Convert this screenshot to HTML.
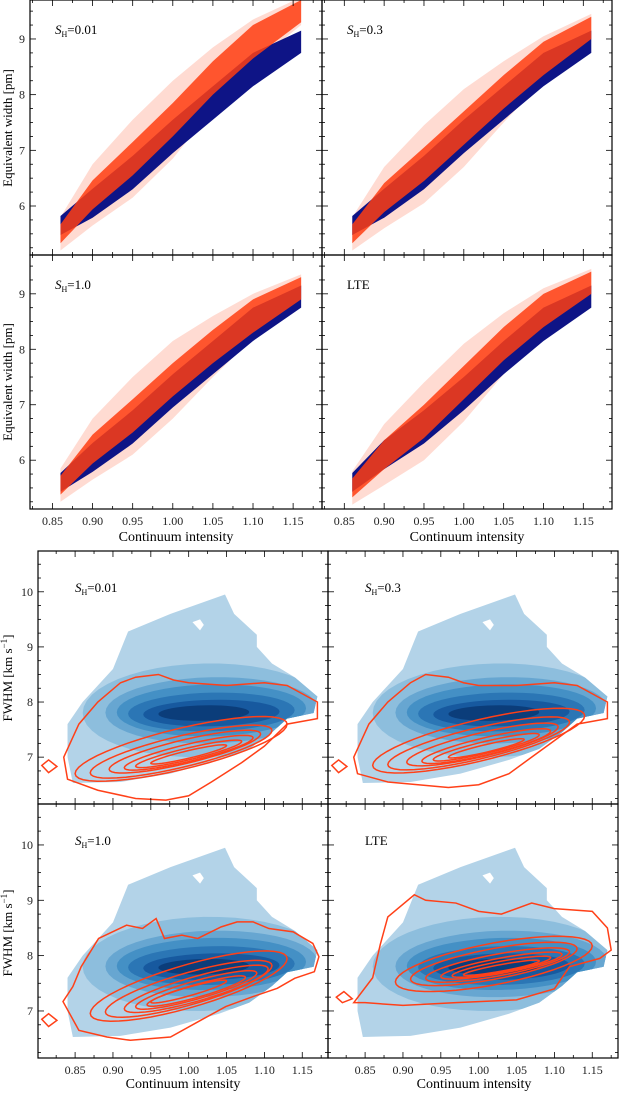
<!DOCTYPE html>
<html><head><meta charset="utf-8">
<style>
html,body{margin:0;padding:0;background:#fff;}
svg{display:block;font-family:"Liberation Serif",serif;}
</style></head>
<body>
<svg id="fig" width="620" height="1093" viewBox="0 0 620 1093" xmlns="http://www.w3.org/2000/svg"></svg>
<script>
// ---------- scatter data (centreline, half-width) ----------
const scX = [0.86, 0.90, 0.95, 1.00, 1.05, 1.10, 1.16];
const blueTL = [5.65, 6.05, 6.6, 7.25, 7.85, 8.45, 8.95];
const redTL  = [5.5, 6.2, 6.85, 7.55, 8.3, 8.95, 9.5];
const blueTR = [5.65, 6.05, 6.6, 7.25, 7.85, 8.45, 8.95];
const redTR  = [5.5, 6.15, 6.75, 7.4, 8.05, 8.65, 9.2];
const blueBL = [5.6, 6.05, 6.6, 7.25, 7.85, 8.45, 8.95];
const redBL  = [5.55, 6.2, 6.8, 7.45, 8.05, 8.6, 9.1];
const blueBR = [5.6, 6.1, 6.6, 7.2, 7.85, 8.45, 8.95];
const redBR  = [5.5, 6.1, 6.7, 7.4, 8.1, 8.7, 9.2];
const bandHW = [0.17, 0.26, 0.3, 0.3, 0.3, 0.3, 0.2];
const haloHW = [0.3, 0.55, 0.7, 0.7, 0.55, 0.4, 0.25];
const scLabels = ["S_H=0.01", "S_H=0.3", "S_H=1.0", "LTE"];
// ---------- contour data ----------
const blueOuter = [[0.847,6.53],[0.84,7.0],[0.84,7.6],[0.86,8.0],[0.88,8.3],[0.90,8.6],[0.92,9.28],[0.976,9.6],[1.048,9.95],[1.06,9.6],[1.09,9.22],[1.09,9.0],[1.11,8.7],[1.14,8.45],[1.17,8.1],[1.165,7.8],[1.13,7.7],[1.11,7.45],[1.08,7.15],[1.04,6.95],[0.976,6.7],[0.91,6.55]];
const blueHole = [[1.005,9.45],[1.015,9.3],[1.02,9.4],[1.015,9.5]];
const blueLevels = [[1.02,7.85,0.16,0.85],[1.03,7.85,0.14,0.6],[1.03,7.85,0.125,0.47],[1.03,7.82,0.11,0.35],[1.03,7.8,0.09,0.24],[1.02,7.8,0.06,0.14]];
const blueColors = ["#b3d3e8","#8dbedd","#67a6d1","#4490c5","#2b76b5","#17599f","#0b3d7a"];
const redOuter01 = [[0.835,7.0],[0.855,7.6],[0.88,8.0],[0.91,8.35],[0.93,8.45],[0.96,8.5],[0.98,8.4],[1.0,8.35],[1.05,8.3],[1.1,8.35],[1.13,8.3],[1.17,8.0],[1.17,7.7],[1.13,7.6],[1.1,7.2],[1.07,6.9],[1.03,6.55],[1.0,6.3],[0.97,6.22],[0.93,6.25],[0.88,6.4],[0.84,6.6]];
const redOuter03 = [[0.835,7.0],[0.855,7.6],[0.88,8.0],[0.91,8.35],[0.93,8.5],[0.96,8.45],[0.98,8.35],[1.0,8.3],[1.05,8.3],[1.1,8.35],[1.13,8.3],[1.17,8.0],[1.17,7.7],[1.13,7.6],[1.1,7.3],[1.07,7.0],[1.04,6.7],[1.0,6.5],[0.96,6.45],[0.92,6.5],[0.88,6.55],[0.84,6.7]];
const redOuter10 = [[0.834,7.17],[0.847,7.44],[0.858,7.8],[0.881,8.31],[0.918,8.55],[0.939,8.49],[0.957,8.67],[0.968,8.31],[0.991,8.37],[1.012,8.31],[1.043,8.52],[1.064,8.61],[1.085,8.61],[1.106,8.49],[1.138,8.43],[1.164,8.22],[1.172,7.98],[1.166,7.71],[1.14,7.59],[1.117,7.41],[1.085,7.26],[1.049,7.08],[1.017,6.84],[0.976,6.53],[0.923,6.47],[0.892,6.53],[0.855,6.65]];
const redOuterLTE = [[0.835,7.15],[0.86,7.6],[0.87,8.2],[0.88,8.7],[0.915,9.1],[0.93,9.0],[0.97,8.95],[1.0,8.8],[1.03,8.75],[1.07,8.95],[1.1,8.85],[1.15,8.8],[1.17,8.5],[1.175,8.1],[1.16,7.95],[1.12,7.8],[1.1,7.4],[1.05,7.2],[0.97,7.15],[0.9,7.1],[0.85,7.15]];
const redDiamond = [[0.806,6.85],[0.815,6.95],[0.826,6.83],[0.815,6.72]];
const redDiamondLTE = [[0.812,7.25],[0.822,7.35],[0.833,7.22],[0.82,7.15]];
// inner contours: [cx, cy, rx, ry]
const redInner01 = [[0.99,7.15,0.14,0.38],[0.99,7.1,0.12,0.29],[0.995,7.1,0.1,0.22],[1.0,7.08,0.085,0.16],[1.0,7.06,0.07,0.11],[1.0,7.05,0.05,0.07]];
const redInner03 = [[1.0,7.3,0.14,0.38],[1.0,7.25,0.12,0.29],[1.005,7.23,0.1,0.22],[1.01,7.2,0.085,0.16],[1.01,7.18,0.07,0.11],[1.01,7.16,0.05,0.07]];
const redInner10 = [[1.0,7.45,0.13,0.4],[1.0,7.4,0.11,0.3],[1.01,7.4,0.095,0.23],[1.01,7.38,0.08,0.17],[1.01,7.36,0.065,0.12],[1.0,7.35,0.05,0.08]];
const redInnerLTE = [[1.02,7.85,0.13,0.38],[1.02,7.85,0.11,0.28],[1.025,7.83,0.095,0.2],[1.03,7.82,0.08,0.14],[1.03,7.8,0.065,0.1],[1.03,7.78,0.05,0.06]];
const innerSlope = [3.2, 3.2, 3.8, 2.5];
const ctLabels = ["S_H=0.01", "S_H=0.3", "S_H=1.0", "LTE"];
const xTicks = [0.85, 0.90, 0.95, 1.00, 1.05, 1.10, 1.15];
const xTickLabels = ["0.85","0.90","0.95","1.00","1.05","1.10","1.15"];
const ewTicks = [6, 7, 8, 9];
const fwTicks = [7, 8, 9, 10];

const NS = "http://www.w3.org/2000/svg";
const svg = document.getElementById('fig');
function mk(tag, attrs, parent) {
  const e = document.createElementNS(NS, tag);
  for (const k in attrs) e.setAttribute(k, attrs[k]);
  (parent || svg).appendChild(e);
  return e;
}
function scales(p) {
  return {
    x: v => p.x0 + (v - p.xd[0]) / (p.xd[1] - p.xd[0]) * (p.x1 - p.x0),
    y: v => p.y1 - (v - p.yd[0]) / (p.yd[1] - p.yd[0]) * (p.y1 - p.y0)
  };
}
function clip(p, id) {
  const d = mk('clipPath', {id: id});
  mk('rect', {x: p.x0, y: p.y0, width: p.x1 - p.x0, height: p.y1 - p.y0}, d);
}
function label(p, txt, x, y) {
  const t = mk('text', {x: x, y: y, 'font-size': 13});
  
  
  if (txt.startsWith('S_H')) {
    const a = mk('tspan', {'font-style': 'italic'}, t); a.textContent = 'S';
    const b = mk('tspan', {'font-size': 8, dy: 3}, t); b.textContent = 'H';
    const c = mk('tspan', {dy: -3}, t); c.textContent = txt.slice(3);
  } else t.textContent = txt;
}
function axes(p, yt, showX, name) {
  const s = scales(p);
  const g = mk('g', {});
  
  
  mk('rect', {x: p.x0, y: p.y0, width: p.x1 - p.x0, height: p.y1 - p.y0, fill: 'none', stroke: '#000', 'stroke-width': 1.2}, g);
  for (let v = 0.8; v <= 1.2001; v += 0.025) {
    if (v < p.xd[0] || v > p.xd[1]) continue;
    const maj = Math.abs(v * 20 - Math.round(v * 20)) < 1e-6;
    const L = maj ? 6 : 3, X = s.x(v);
    mk('line', {x1: X, x2: X, y1: p.y1, y2: p.y1 - L, stroke: '#000', 'stroke-width': 0.8}, g);
    mk('line', {x1: X, x2: X, y1: p.y0, y2: p.y0 + L, stroke: '#000', 'stroke-width': 0.8}, g);
  }
  for (let v = 5; v <= 11; v += 0.25) {
    if (v < p.yd[0] || v > p.yd[1]) continue;
    const maj = Math.abs(v - Math.round(v)) < 1e-6;
    const L = maj ? 6 : 3, Y = s.y(v);
    mk('line', {x1: p.x0, x2: p.x0 + L, y1: Y, y2: Y, stroke: '#000', 'stroke-width': 0.8}, g);
    mk('line', {x1: p.x1, x2: p.x1 - L, y1: Y, y2: Y, stroke: '#000', 'stroke-width': 0.8}, g);
  }
  if (yt) yt.forEach(v => {
    const t = mk('text', {x: p.x0 - 5, y: s.y(v) + 4, 'font-size': 12, 'text-anchor': 'end', fill: '#222'});
    
    
    t.textContent = v;
  });
  if (showX) xTicks.forEach((v, i) => {
    const t = mk('text', {x: s.x(v), y: p.y1 + 16, 'font-size': 12, 'text-anchor': 'middle', fill: '#222'});
    
    
    t.textContent = xTickLabels[i];
  });
}
function bandPath(s, xs, yc, hw) {
  const up = xs.map((x, i) => s.x(x) + ',' + s.y(yc[i] + hw[i]));
  const dn = xs.map((x, i) => s.x(x) + ',' + s.y(yc[i] - hw[i])).reverse();
  return 'M' + up.join('L') + 'L' + dn.join('L') + 'Z';
}
function polyPath(s, pts) {
  return 'M' + pts.map(q => s.x(q[0]) + ',' + s.y(q[1])).join('L') + 'Z';
}
function ellPath(s, e, slope) {
  const pts = [];
  for (let k = 0; k < 48; k++) {
    const a = k / 48 * Math.PI * 2;
    const dx = e[2] * Math.cos(a);
    pts.push([e[0] + dx, e[1] + slope * dx + e[3] * Math.sin(a)]);
  }
  return polyPath(s, pts);
}

// ---------- scatter panels ----------
const scPanels = [
  {x0: 30, x1: 322, y0: 0, y1: 255, blue: blueTL, red: redTL, yt: true},
  {x0: 322, x1: 612, y0: 0, y1: 255, blue: blueTR, red: redTR, yt: false},
  {x0: 30, x1: 322, y0: 255, y1: 509, blue: blueBL, red: redBL, yt: true},
  {x0: 322, x1: 612, y0: 255, y1: 509, blue: blueBR, red: redBR, yt: false}
];
scPanels.forEach((p, i) => {
  p.xd = [0.822, 1.186]; p.yd = [5.12, 9.7];
  const s = scales(p);
  clip(p, 'sc' + i);
  const g = mk('g', {'clip-path': 'url(#sc' + i + ')'});
  
  
  const halo = mk('path', {d: bandPath(s, scX, p.red, haloHW), fill: '#ff5a30', opacity: 0.22}, g);
  
  
  const b = mk('path', {d: bandPath(s, scX, p.blue, bandHW), fill: '#0e1486'}, g);
  
  
  const r = mk('path', {d: bandPath(s, scX, p.red, bandHW), fill: '#ff3d12', opacity: 0.85}, g);
  
  
  axes(p, p.yt ? ewTicks : null, i >= 2, 'scatter-' + (i + 1));
  label(p, scLabels[i], p.x0 + 25, p.y0 + 34);
});
[128, 382].forEach(cy => {
  const t = mk('text', {x: 0, y: 0, 'font-size': 13, 'text-anchor': 'middle', transform: 'translate(12,' + cy + ') rotate(-90)'});
  
  
  t.textContent = 'Equivalent width [pm]';
});
[[176, 541], [467, 541], [183, 1088], [474, 1088]].forEach(c => {
  const t = mk('text', {x: c[0], y: c[1], 'font-size': 14, 'text-anchor': 'middle'});
  
  
  t.textContent = 'Continuum intensity';
});

// ---------- contour panels ----------
const ctPanels = [
  {x0: 38, x1: 328, y0: 551, y1: 804, outer: redOuter01, inner: redInner01, dia: redDiamond},
  {x0: 328, x1: 618, y0: 551, y1: 804, outer: redOuter03, inner: redInner03, dia: redDiamond},
  {x0: 38, x1: 328, y0: 804, y1: 1058, outer: redOuter10, inner: redInner10, dia: redDiamond},
  {x0: 328, x1: 618, y0: 804, y1: 1058, outer: redOuterLTE, inner: redInnerLTE, dia: redDiamondLTE}
];
ctPanels.forEach((p, i) => {
  p.xd = [0.801, 1.184]; p.yd = [6.15, 10.74];
  const s = scales(p);
  clip(p, 'ct' + i);
  const bc = mk('clipPath', {id: 'bo' + i});
  mk('path', {d: polyPath(s, blueOuter)}, bc);
  const g = mk('g', {'clip-path': 'url(#ct' + i + ')'});
  
  
  const o = mk('path', {d: polyPath(s, blueOuter), fill: blueColors[0]}, g);
  
  
  mk('path', {d: polyPath(s, blueHole), fill: '#fff'}, g);
  const gl = mk('g', {'clip-path': 'url(#bo' + i + ')'}, g);
  blueLevels.forEach((e, k) => {
    const lv = mk('path', {d: ellPath(s, e, 0.3), fill: blueColors[k + 1]}, gl);
    
    
  });
  const ro = mk('path', {d: polyPath(s, p.outer), fill: 'none', stroke: '#ff4018', 'stroke-width': 1.5}, g);
  
  
  mk('path', {d: polyPath(s, p.dia), fill: 'none', stroke: '#ff4018', 'stroke-width': 1.5}, g);
  p.inner.forEach(e => {
    const ri = mk('path', {d: ellPath(s, e, innerSlope[i]), fill: 'none', stroke: '#ff4018', 'stroke-width': 1.5}, g);
    
    
  });
  axes(p, i % 2 === 0 ? fwTicks : null, i >= 2, 'contour-' + (i + 1));
  label(p, ctLabels[i], p.x0 + 37, p.y0 + 41);
});
[678, 933].forEach(cy => {
  const t = mk('text', {x: 0, y: 0, 'font-size': 13, 'text-anchor': 'middle', transform: 'translate(12,' + cy + ') rotate(-90)'});
  
  
  t.appendChild(document.createTextNode('FWHM [km s'));
  const sp = mk('tspan', {'font-size': 9, dy: -5}, t); sp.textContent = '−1';
  const sp2 = mk('tspan', {dy: 5}, t); sp2.textContent = ']';
});
</script>
</body></html>
